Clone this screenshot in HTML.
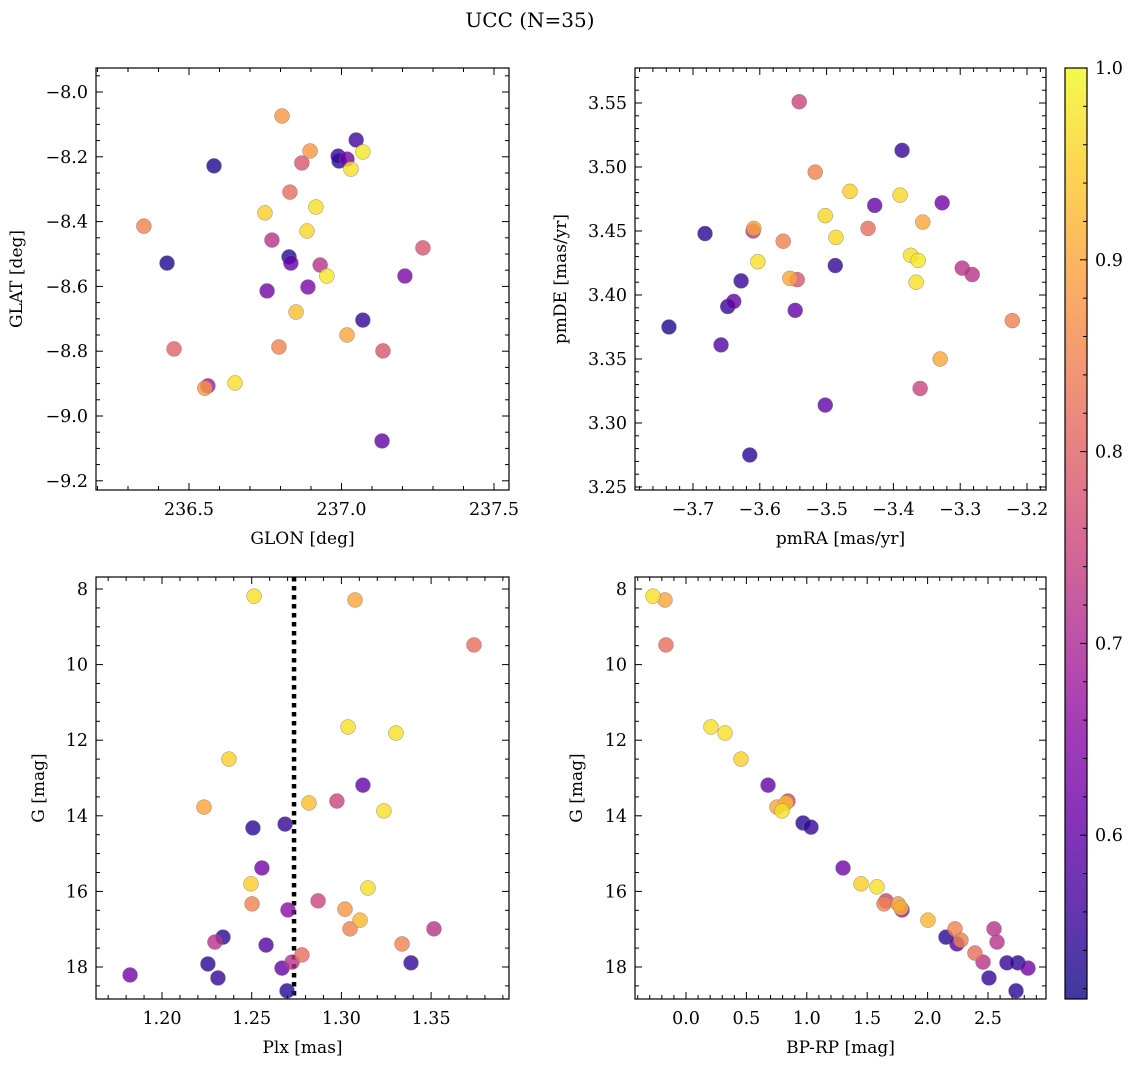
<!DOCTYPE html>
<html><head><meta charset="utf-8"><title>UCC (N=35)</title>
<style>
html,body{margin:0;padding:0;background:#fff;}
svg text{font-family:"DejaVu Serif","Liberation Serif",serif;fill:#000;}
</style></head>
<body>
<svg id="fig" xmlns="http://www.w3.org/2000/svg" width="1136" height="1067" viewBox="0 0 1136 1067">
<text x="530" y="27" font-size="20" text-anchor="middle">UCC (N=35)</text>
</svg>
<script>
// Panel 1: GLON vs GLAT
const p1Glon=[236.805,236.897,237.048,236.989,236.992,237.018,237.070,237.031,236.870,236.582,236.831,236.916,236.749,236.352,236.772,236.887,237.267,236.828,236.834,236.428,236.930,236.952,237.208,236.756,236.890,236.851,237.070,237.018,236.795,236.451,237.136,236.651,236.562,236.552,237.133];
const p1Glat=[-8.074,-8.182,-8.148,-8.198,-8.213,-8.207,-8.185,-8.238,-8.219,-8.228,-8.309,-8.355,-8.373,-8.414,-8.457,-8.429,-8.481,-8.509,-8.528,-8.528,-8.534,-8.568,-8.568,-8.614,-8.602,-8.679,-8.704,-8.750,-8.787,-8.793,-8.799,-8.898,-8.907,-8.914,-9.077];
const p1Prob=[0.88,0.88,0.56,0.55,0.54,0.62,0.98,0.97,0.78,0.53,0.82,0.97,0.95,0.85,0.72,0.96,0.78,0.54,0.60,0.53,0.72,0.98,0.63,0.62,0.63,0.93,0.55,0.90,0.85,0.80,0.78,0.97,0.68,0.88,0.60];
// Panel 2: pmRA vs pmDE
const p2PmRA=[-3.541,-3.387,-3.517,-3.465,-3.390,-3.428,-3.327,-3.502,-3.356,-3.438,-3.609,-3.610,-3.682,-3.486,-3.565,-3.374,-3.363,-3.603,-3.487,-3.555,-3.544,-3.297,-3.282,-3.628,-3.366,-3.648,-3.639,-3.547,-3.736,-3.222,-3.658,-3.330,-3.360,-3.502,-3.615];
const p2PmDE=[3.551,3.513,3.496,3.481,3.478,3.470,3.472,3.462,3.457,3.452,3.452,3.450,3.448,3.445,3.442,3.431,3.427,3.426,3.423,3.413,3.412,3.421,3.416,3.411,3.410,3.391,3.395,3.388,3.375,3.380,3.361,3.350,3.327,3.314,3.275];
const p2Prob=[0.75,0.55,0.85,0.95,0.96,0.60,0.62,0.96,0.90,0.82,0.90,0.72,0.54,0.96,0.85,0.97,0.98,0.97,0.55,0.90,0.78,0.72,0.72,0.55,0.97,0.55,0.60,0.60,0.53,0.85,0.58,0.90,0.75,0.60,0.54];
// Panel 3: Plx vs G
const p3Plx=[1.2513,1.3076,1.3739,1.3037,1.3304,1.2373,1.3120,1.2234,1.2819,1.2975,1.3237,1.2507,1.2686,1.2557,1.2496,1.3148,1.2502,1.2870,1.2702,1.3020,1.3104,1.3048,1.3516,1.2340,1.2295,1.2580,1.3338,1.2780,1.2669,1.2725,1.2256,1.3388,1.1822,1.2312,1.2697];
const p3G=[8.19,8.29,9.48,11.65,11.81,12.50,13.19,13.77,13.66,13.61,13.87,14.32,14.22,15.38,15.80,15.91,16.33,16.25,16.49,16.47,16.76,16.99,16.99,17.21,17.34,17.42,17.39,17.68,18.03,17.87,17.92,17.89,18.21,18.29,18.63];
const p3Prob=[0.97,0.90,0.82,0.97,0.97,0.95,0.60,0.90,0.93,0.75,0.97,0.54,0.55,0.62,0.95,0.97,0.85,0.75,0.65,0.88,0.92,0.85,0.72,0.54,0.72,0.58,0.85,0.82,0.60,0.72,0.54,0.55,0.62,0.55,0.54];
const plxLine=[1.2736];
// Panel 4: BP-RP vs G
const p4BpRp=[-0.273,-0.174,-0.166,0.207,0.323,0.455,0.679,0.753,0.795,0.828,0.844,0.969,1.035,1.300,1.449,1.581,1.639,1.656,1.755,1.780,1.788,2.003,2.227,2.276,2.243,2.550,2.575,2.392,2.152,2.459,2.657,2.748,2.831,2.508,2.732];
const p4G=[8.19,8.29,9.48,11.65,11.81,12.50,13.19,13.77,13.87,13.66,13.61,14.19,14.30,15.38,15.80,15.88,16.33,16.25,16.33,16.44,16.49,16.76,16.99,17.29,17.39,16.99,17.34,17.63,17.21,17.87,17.89,17.89,18.03,18.29,18.63];
const p4Prob=[0.97,0.90,0.82,0.97,0.97,0.95,0.60,0.90,0.97,0.93,0.75,0.54,0.55,0.62,0.95,0.97,0.85,0.75,0.88,0.92,0.65,0.92,0.85,0.85,0.58,0.72,0.72,0.82,0.54,0.72,0.55,0.54,0.62,0.55,0.54];
// Colorbar ticks
const cbTicks=[0.6,0.7,0.8,0.9,1.0];
const cbMin=0.5146, cbMax=1.0;

const NS='http://www.w3.org/2000/svg';
const svg=document.getElementById('fig');
function mk(tag,attrs,parent){const e=document.createElementNS(NS,tag);for(const k in attrs)e.setAttribute(k,attrs[k]);(parent||svg).appendChild(e);return e;}
const stops=[[13,8,135],[65,4,157],[106,0,168],[143,13,164],[177,42,144],[204,71,120],[225,100,98],[242,132,75],[252,166,54],[252,206,37],[240,249,33]];
function plasma(t){t=Math.max(0,Math.min(1,t));const s=t*10,i=Math.min(9,Math.floor(s)),f=s-i;const a=stops[i],b=stops[i+1];return 'rgb('+a.map((v,k)=>Math.round(v+(b[k]-v)*f)).join(',')+')';}
function cnorm(p){return (p-cbMin)/(cbMax-cbMin);}
function fmt(v,d){let s=Math.abs(v).toFixed(d);return (v< -1e-9?'\u2212':'')+s;}
const TF=17.5, LF=17;

function panel(cfg){
  const g=mk('g',{});
  
  
  const {x0,x1,y0,y1}=cfg.box;
  const sx=v=>x0+(v-cfg.xd[0])/(cfg.xd[1]-cfg.xd[0])*(x1-x0);
  const sy=v=>cfg.yInv? y0+(v-cfg.yd[0])/(cfg.yd[1]-cfg.yd[0])*(y1-y0) : y1-(v-cfg.yd[0])/(cfg.yd[1]-cfg.yd[0])*(y1-y0);
  const tg=mk('g',{stroke:'#000','stroke-width':1},g);
  
  
  const lo=Math.min(...cfg.xd),hi=Math.max(...cfg.xd);
  for(let k=Math.ceil(lo/cfg.xmin-1e-6);k*cfg.xmin<=hi+1e-9;k++){
    const v=k*cfg.xmin,X=sx(v);const major=Math.abs(v/cfg.xmaj-Math.round(v/cfg.xmaj))<1e-6;const L=major?7:4;
    mk('line',{x1:X,y1:y1,x2:X,y2:y1-L},tg);mk('line',{x1:X,y1:y0,x2:X,y2:y0+L},tg);
    if(major){const t=mk('text',{x:X,y:y1+25,'font-size':TF,'text-anchor':'middle',stroke:'none'},g);t.textContent=fmt(v,cfg.xdec);
      }
  }
  const ylo=Math.min(...cfg.yd),yhi=Math.max(...cfg.yd);
  for(let k=Math.ceil(ylo/cfg.ymin-1e-6);k*cfg.ymin<=yhi+1e-9;k++){
    const v=k*cfg.ymin,Y=sy(v);const major=Math.abs(v/cfg.ymaj-Math.round(v/cfg.ymaj))<1e-6;const L=major?7:4;
    mk('line',{x1:x0,y1:Y,x2:x0+L,y2:Y},tg);mk('line',{x1:x1,y1:Y,x2:x1-L,y2:Y},tg);
    if(major){const t=mk('text',{x:x0-8,y:Y+6,'font-size':TF,'text-anchor':'end',stroke:'none'},g);t.textContent=fmt(v,cfg.ydec);
      }
  }
  if(cfg.vline){cfg.vline.forEach(v=>{const l=mk('line',{x1:sx(v),x2:sx(v),y1:y0,y2:y1,stroke:'#000','stroke-width':4.5,'stroke-dasharray':'4.5 4.5'},g);
    });}
  const order=cfg.p.map((p,i)=>i).sort((a,b)=>cfg.p[a]-cfg.p[b]);
  order.forEach(i=>{const c=mk('circle',{cx:sx(cfg.x[i]),cy:sy(cfg.y[i]),r:7.5,fill:plasma(cnorm(cfg.p[i])),'fill-opacity':0.8,stroke:'#777','stroke-width':0.5,'stroke-opacity':0.8},g);
    });
  const fr=mk('rect',{x:x0,y:y0,width:x1-x0,height:y1-y0,fill:'none',stroke:'#000','stroke-width':1.2},g);
  
  const xl=mk('text',{x:(x0+x1)/2,y:y1+54,'font-size':LF,'text-anchor':'middle'},g);xl.textContent=cfg.xlabel;
  
  const yx=cfg.ylx,yy=(y0+y1)/2;
  const yl=mk('text',{x:yx,y:yy,'font-size':LF,'text-anchor':'middle',transform:'rotate(-90 '+yx+' '+yy+')'},g);yl.textContent=cfg.ylabel;
  
}
panel({name:'glon-glat-panel',box:{x0:96,x1:509,y0:68,y1:490},xd:[236.5-93/305,236.5+320/305],yd:[-8-398/324,-8+24/324],
  yInv:false,x:p1Glon,y:p1Glat,p:p1Prob,xmaj:0.5,xmin:0.1,xdec:1,ymaj:0.2,ymin:0.05,ydec:1,xlabel:'GLON [deg]',ylabel:'GLAT [deg]',ylx:22});
panel({name:'pm-panel',box:{x0:635,x1:1046,y0:68,y1:490},xd:[-3.7-58/668,-3.7+353/668],yd:[3.55-387/1280,3.55+35/1280],
  yInv:false,x:p2PmRA,y:p2PmDE,p:p2Prob,xmaj:0.1,xmin:0.02,xdec:1,ymaj:0.05,ymin:0.01,ydec:2,xlabel:'pmRA [mas/yr]',ylabel:'pmDE [mas/yr]',ylx:566});
panel({name:'plx-g-panel',box:{x0:96,x1:509,y0:577,y1:999},xd:[1.2-66/1794,1.2+347/1794],yd:[8-12/37.8,8+410/37.8],
  yInv:true,x:p3Plx,y:p3G,p:p3Prob,vline:plxLine,xmaj:0.05,xmin:0.01,xdec:2,ymaj:2,ymin:0.5,ydec:0,xlabel:'Plx [mas]',ylabel:'G [mag]',ylx:44});
panel({name:'cmd-panel',box:{x0:635,x1:1046,y0:577,y1:999},xd:[-51/120.8,360/120.8],yd:[8-12/37.8,8+410/37.8],
  yInv:true,x:p4BpRp,y:p4G,p:p4Prob,xmaj:0.5,xmin:0.1,xdec:1,ymaj:2,ymin:0.5,ydec:0,xlabel:'BP-RP [mag]',ylabel:'G [mag]',ylx:582});
const cb=mk('g',{});


const cx0=1065,cx1=1087,cy0=68,cy1=999;
const defs=mk('defs',{},cb);
const lg=mk('linearGradient',{id:'cbg',x1:0,y1:1,x2:0,y2:0},defs);
for(let i=0;i<=20;i++){mk('stop',{offset:(i/20),'stop-color':plasma(i/20),'stop-opacity':0.8},lg);}
mk('rect',{x:cx0,y:cy0,width:cx1-cx0,height:cy1-cy0,fill:'url(#cbg)',stroke:'#000','stroke-width':1.2},cb);
const cy=v=>cy1-(v-cbMin)/(cbMax-cbMin)*(cy1-cy0);
for(let k=26;k<=50;k++){const v=k*0.02,Y=cy(v);if(v<cbMin)continue;const major=k%5===0;
  mk('line',{x1:cx1,x2:cx1-(major?7:4),y1:Y,y2:Y,stroke:'#000','stroke-width':1},cb);}
cbTicks.forEach(v=>{const t=mk('text',{x:cx1+8,y:cy(v)+6,'font-size':TF},cb);t.textContent=v.toFixed(1);
  });
</script>
</body></html>
